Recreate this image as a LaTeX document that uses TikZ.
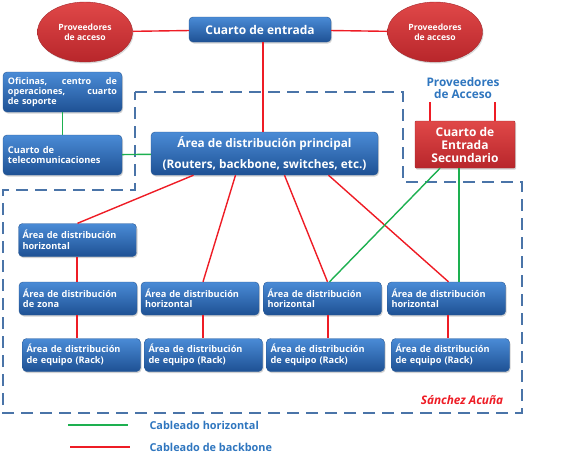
\documentclass[tikz,border=0pt]{standalone}
\usepackage{fontspec}
\setmainfont{Open Sans}
\usetikzlibrary{shapes.geometric,shadows}

\definecolor{box top}{HTML}{4A8BD6}
\definecolor{box bottom}{HTML}{1E5194}
\definecolor{box edge}{HTML}{2A5A96}
\definecolor{red top}{HTML}{E04848}
\definecolor{red bottom}{HTML}{B8262B}
\definecolor{red edge}{HTML}{A42A2E}
\definecolor{region edge}{HTML}{4A74A8}
\definecolor{label blue}{HTML}{2F76BF}
\definecolor{backbone line}{HTML}{EE1C25}
\definecolor{horizontal line}{HTML}{1DB050}

\tikzset{
  box/.style={rectangle, rounded corners=4pt, top color=box top, bottom color=box bottom,
    draw=box edge, text=white, font=\bfseries,
    drop shadow={opacity=0.35, shadow xshift=1pt, shadow yshift=-1.5pt}},
  redbox/.style={box, top color=red top, bottom color=red bottom, draw=red edge, rounded corners=1pt},
  provider/.style={ellipse, top color=red top, bottom color=red bottom, draw=red edge,
    minimum width=95pt, minimum height=60pt, inner sep=0pt, align=center, text=white,
    font=\fontsize{8.6}{10}\selectfont\bfseries,
    drop shadow={opacity=0.3, shadow xshift=1pt, shadow yshift=-1.5pt}},
  row/.style={box, minimum width=118pt, minimum height=33pt, text width=110pt, align=left,
    font=\fontsize{9.2}{10.5}\selectfont\bfseries}
  }
\tikzstyle{backbone} = [draw, backbone line, line width=1.4pt, -]
\tikzstyle{horizontal} = [draw, horizontal line, line width=1.4pt, -]
\tikzstyle{region} = [draw, region edge, line width=2.6pt, dash pattern=on 12pt off 7pt]

\begin{document}
\begin{tikzpicture}[x=1pt,y=-1pt]
    \useasboundingbox (0,0) rectangle (578,459);

    % Dashed outline of the building
    \path[region] (135,92) -- (403,92) -- (403,182) -- (522,182) -- (522,413)
      -- (3,413) -- (3,190) -- (135,190) -- cycle;

    % Entrance
    \node[provider] (provleft) at (85,32) {Proveedores\\de acceso};
    \node[provider] (provright) at (435,32) {Proveedores\\de acceso};
    \node[box, minimum width=142pt, minimum height=25pt,
      font=\fontsize{12}{14}\selectfont\bfseries] (entrada) at (260,29.5) {Cuarto de entrada};

    % Left side
    \node[box, minimum width=119pt, minimum height=40pt, text width=109pt, align=left,
      font=\fontsize{9}{10}\selectfont\bfseries] (oficinas) at (62.5,92)
      {Oficinas,\hfill centro\hfill de\\operaciones,\hfill cuarto\\de soporte};
    \node[box, minimum width=119pt, minimum height=40pt, text width=109pt, align=left,
      font=\fontsize{9.3}{10.5}\selectfont\bfseries] (telecom) at (62.5,155) {Cuarto de\\telecomunicaciones};

    % Main distribution area
    \node[box, minimum width=227pt, minimum height=43pt, align=center,
      font=\fontsize{11.8}{21}\selectfont\bfseries] (principal) at (264.5,153.5)
      {Área de distribución principal\\(Routers, backbone, switches, etc.)};

    % Secondary entrance
    \node[align=center, text=label blue, font=\fontsize{11.8}{12.5}\selectfont\bfseries]
      (provsec) at (463,88) {Proveedores\\de Acceso};
    \node[redbox, minimum width=100pt, minimum height=47pt, align=center,
      font=\fontsize{12}{13}\selectfont\bfseries] (secundario) at (465,144.5)
      {Cuarto de\\Entrada\\Secundario};

    % Horizontal distribution areas
    \node[row] (hzone) at (77.5,240) {Área de distribución\\horizontal};
    \foreach \x/\name/\txt in {78/zona/{de zona}, 200/h2/horizontal, 322.5/h3/horizontal, 446.5/h4/horizontal} {
      \node[row] (\name) at (\x,298.5) {Área de distribución\\\txt};
    }
    \foreach \x/\name in {81.5/rack1, 203.5/rack2, 325.5/rack3, 450.5/rack4} {
      \node[row] (\name) at (\x,355) {Área de distribución\\de equipo (Rack)};
    }

    % Backbone cabling
    \path[backbone] (provleft) -- (entrada);
    \path[backbone] (entrada) -- (provright);
    \path[backbone] ([xshift=3pt]entrada.south) -- ([xshift=3pt]entrada.south |- principal.north);
    \path[backbone] ([xshift=-35pt]secundario.north) -- ([xshift=-35pt]secundario.north |- provsec.south);
    \path[backbone] ([xshift=30pt]secundario.north) -- ([xshift=30pt]secundario.north |- provsec.south);
    \path[backbone] ([xshift=-71pt]principal.south) -- (hzone.north);
    \path[backbone] ([xshift=-29pt]principal.south) -- ([xshift=3pt]h2.north);
    \path[backbone] ([xshift=20pt]principal.south) -- ([xshift=5pt]h3.north);
    \path[backbone] ([xshift=64pt]principal.south) -- ([xshift=2pt]h4.north);
    \path[backbone] ([xshift=-0.5pt]hzone.south) -- ([xshift=-0.5pt]hzone.south |- zona.north);
    \foreach \name/\rack/\dx in {zona/rack1/-1pt, h2/rack2/3pt, h3/rack3/5.5pt, h4/rack4/1.5pt} {
      \path[backbone] ([xshift=\dx]\name.south) -- ([xshift=\dx]\name.south |- \rack.north);
    }

    % Horizontal cabling
    \path[horizontal] (oficinas) -- (telecom);
    \path[horizontal] (telecom) -- (principal);
    \path[horizontal] ([xshift=-25pt]secundario.south) -- ([xshift=7pt]h3.north);
    \path[horizontal] ([xshift=-6pt]secundario.south) -- ([xshift=-6pt]secundario.south |- h4.north);

    % Signature and legend
    \node[text=backbone line, font=\fontsize{11.8}{13}\selectfont\bfseries\itshape] (firma) at (462,400) {Sánchez Acuña};
    \node[anchor=west, text=label blue, font=\fontsize{10.9}{12}\selectfont\bfseries] (leghoriz) at (146,425) {Cableado horizontal};
    \node[anchor=west, text=label blue, font=\fontsize{10.9}{12}\selectfont\bfseries] (legback) at (146,447) {Cableado de backbone};
    \path[horizontal] ([xshift=-78pt]leghoriz.west) -- ([xshift=-18pt]leghoriz.west);
    \path[backbone] ([xshift=-76pt]legback.west) -- ([xshift=-16pt]legback.west);
\end{tikzpicture}
\end{document}
